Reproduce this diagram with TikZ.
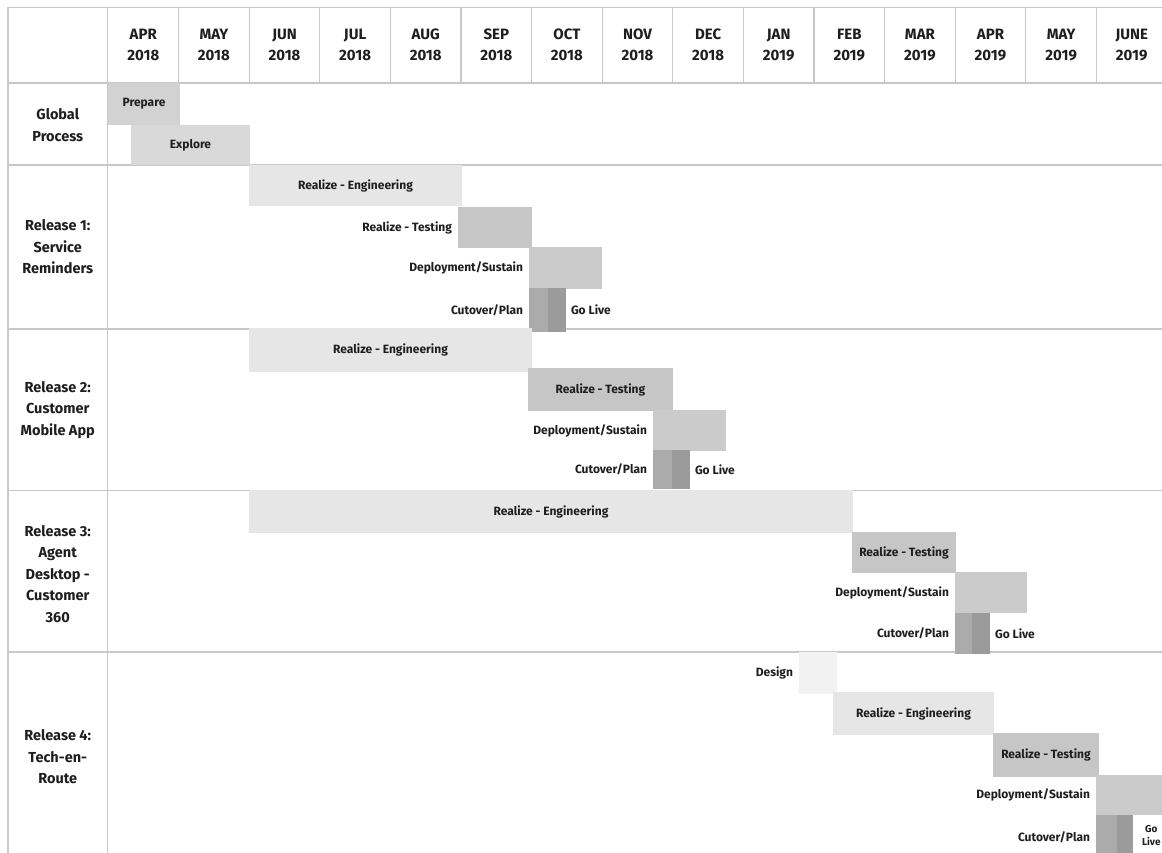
\documentclass[tikz,border=0pt]{standalone}
\usepackage{fontspec}
\setmainfont{Fira Sans}
\definecolor{gridc}{HTML}{C8C8C8}
\definecolor{txt}{HTML}{1E1E1E}
\definecolor{engc}{HTML}{E6E6E6}
\definecolor{testc}{HTML}{C6C6C6}
\definecolor{depc}{HTML}{CBCBCB}
\definecolor{cutA}{HTML}{ABABAB}
\definecolor{cutB}{HTML}{9B9B9B}
\definecolor{prepc}{HTML}{D2D2D2}
\definecolor{explc}{HTML}{D9D9D9}
\definecolor{desc}{HTML}{F2F2F2}
\tikzset{
  gridline/.style={draw=gridc, line width=1.2pt},
  hdr/.style={align=center, inner sep=0pt, text=txt, font=\bfseries\fontsize{15}{21}\selectfont},
  rowlbl/.style={align=center, inner sep=0pt, text=txt, font=\bfseries\fontsize{14.5}{21.5}\selectfont},
  bar/.style={rectangle, inner sep=0pt, outer sep=0pt, anchor=north west, text=txt, font=\bfseries\fontsize{12}{14}\selectfont},
  lbl/.style={inner sep=0pt, outer sep=0pt, text=txt, font=\bfseries\fontsize{12}{14}\selectfont},
}
\newcommand\ganttbar[7]{\node[bar, fill=#6, minimum width={(#4)-(#2)}, minimum height={(#5)-(#3)}] (#1) at (#2,#3) {#7};}
\newcommand\leftlbl[3]{\node[lbl, anchor=east] (#1) at ([xshift=-6pt]#2.west) {#3};}
\newcommand\rightlbl[3]{\node[lbl, anchor=west] (#1) at ([xshift=5pt]#2.east) {#3};}
\begin{document}
\begin{tikzpicture}[x=1pt,y=-1pt]
\useasboundingbox (0,0) rectangle (1162,853);
\fill[white] (0,0) rectangle (1162,853);
\begin{scope}
\clip (0,0) rectangle (1162,853);
% grid
\foreach \yy in {7.5,83,165,329,490.5,652} \draw[gridline] (8,\yy) -- (1170,\yy);
\draw[gridline] (8,7.5) -- (8,860);
\draw[gridline] (107.5,7.5) -- (107.5,860);
\foreach \i in {1,...,14} \draw[gridline] ({108+70.6*\i},7.5) -- ({108+70.6*\i},83);
% header
\foreach \m/\yr [count=\i from 0] in {APR/2018,MAY/2018,JUN/2018,JUL/2018,AUG/2018,SEP/2018,OCT/2018,NOV/2018,DEC/2018,JAN/2019,FEB/2019,MAR/2019,APR/2019,MAY/2019,JUNE/2019}
  \node[hdr] (h\i) at ({108+70.6*(\i+0.5)},45) {\m\\\yr};
% row labels
\node[rowlbl] (rg) at (57.75,125) {Global\\Process};
\node[rowlbl] (r1) at (57.75,247) {Release 1:\\Service\\Reminders};
\node[rowlbl] (r2) at (57.75,410) {Release 2:\\Customer\\Mobile App};
\node[rowlbl] (r3) at (57.75,574) {Release 3:\\Agent\\Desktop -\\Customer\\360};
\node[rowlbl] (r4) at (57.75,757) {Release 4:\\Tech-en-\\Route};
% global
\ganttbar{prep}{108}{83}{180}{125}{prepc}{Prepare}
\ganttbar{expl}{131}{125}{250}{165}{explc}{Explore}
% release 1
\ganttbar{aeng}{249}{165}{462}{206}{engc}{Realize - Engineering}
\ganttbar{atest}{458}{207}{532}{248}{testc}{}
\ganttbar{adep}{529}{247}{602}{289}{depc}{}
\ganttbar{acutA}{529}{288}{548}{332}{cutA}{}
\ganttbar{acutB}{548}{288}{566}{332}{cutB}{}
\leftlbl{atestL}{atest}{Realize - Testing}
\leftlbl{adepL}{adep}{Deployment/Sustain}
\leftlbl{acutL}{acutA}{Cutover/Plan}
\rightlbl{agoL}{acutB}{Go Live}
% release 2
\ganttbar{beng}{249}{328}{532}{372}{engc}{Realize - Engineering}
\ganttbar{btest}{528}{368}{673}{411}{testc}{Realize - Testing}
\ganttbar{bdep}{653}{410}{726}{451}{depc}{}
\ganttbar{bcutA}{653}{450}{672}{489}{cutA}{}
\ganttbar{bcutB}{672}{450}{690}{489}{cutB}{}
\leftlbl{bdepL}{bdep}{Deployment/Sustain}
\leftlbl{bcutL}{bcutA}{Cutover/Plan}
\rightlbl{bgoL}{bcutB}{Go Live}
% release 3
\ganttbar{ceng}{249}{490}{853}{533}{engc}{Realize - Engineering}
\ganttbar{ctest}{852}{532}{956}{573}{testc}{Realize - Testing}
\ganttbar{cdep}{955}{572}{1027}{613}{depc}{}
\ganttbar{ccutA}{955}{613}{972}{654}{cutA}{}
\ganttbar{ccutB}{972}{613}{990}{654}{cutB}{}
\leftlbl{cdepL}{cdep}{Deployment/Sustain}
\leftlbl{ccutL}{ccutA}{Cutover/Plan}
\rightlbl{cgoL}{ccutB}{Go Live}
% release 4
\ganttbar{ddes}{799}{652}{837}{694}{desc}{}
\ganttbar{deng}{833}{692}{994}{735}{engc}{Realize - Engineering}
\ganttbar{dtest}{993}{733}{1099}{777}{testc}{Realize - Testing}
\ganttbar{ddep}{1096}{775}{1180}{815}{depc}{}
\ganttbar{dcutA}{1096}{815}{1117}{860}{cutA}{}
\ganttbar{dcutB}{1117}{815}{1133}{860}{cutB}{}
\leftlbl{ddesL}{ddes}{Design}
\leftlbl{ddepL}{ddep}{Deployment/Sustain}
\node[lbl, anchor=east] (dcutL) at ([xshift=-6pt]dcutA.west |- 0,837) {Cutover/Plan};
\node[lbl, align=center, anchor=west, font=\bfseries\fontsize{10}{13}\selectfont] (dgoL) at ([xshift=9pt]dcutB.east |- 0,836) {Go\\Live};
\end{scope}
\end{tikzpicture}
\end{document}
